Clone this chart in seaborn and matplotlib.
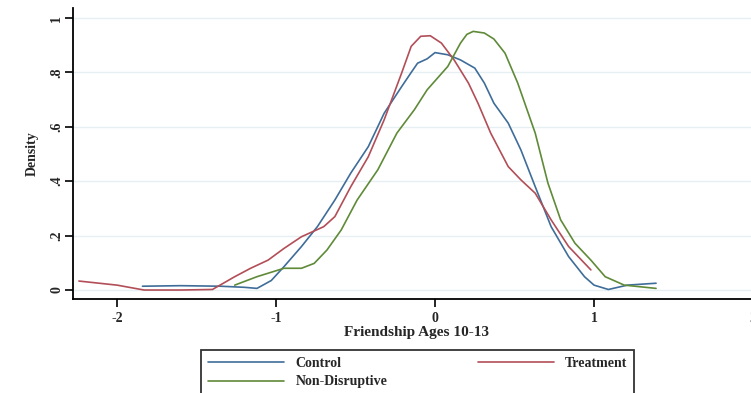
import pandas as pd
import numpy as np
import matplotlib
matplotlib.use('Agg')
import matplotlib.pyplot as plt
import seaborn as sns

# Curvas de densidad
control_x = [-1.84, -1.60, -1.35, -1.20, -1.12, -1.03, -0.95, -0.84, -0.74, -0.63, -0.53,
             -0.42, -0.32, -0.21, -0.15, -0.11, -0.05, 0.00, 0.08, 0.16, 0.25, 0.31,
             0.37, 0.46, 0.54, 0.63, 0.73, 0.84, 0.94, 1.00, 1.09, 1.21, 1.39]
control_y = [0.014, 0.016, 0.014, 0.010, 0.006, 0.035, 0.086, 0.160, 0.233, 0.331, 0.430,
             0.527, 0.650, 0.748, 0.800, 0.834, 0.850, 0.873, 0.865, 0.846, 0.816, 0.761,
             0.687, 0.614, 0.515, 0.380, 0.233, 0.123, 0.049, 0.018, 0.002, 0.018, 0.025]

treat_x = [-2.24, -2.00, -1.83, -1.60, -1.40, -1.26, -1.16, -1.05, -0.95, -0.84, -0.70,
           -0.63, -0.53, -0.42, -0.32, -0.21, -0.15, -0.09, -0.03, 0.04, 0.12, 0.21,
           0.27, 0.35, 0.46, 0.54, 0.63, 0.73, 0.84, 0.98]
treat_y = [0.033, 0.018, 0.000, 0.000, 0.002, 0.049, 0.080, 0.110, 0.153, 0.196, 0.233,
           0.270, 0.380, 0.490, 0.626, 0.798, 0.896, 0.933, 0.935, 0.908, 0.846, 0.761,
           0.687, 0.577, 0.454, 0.405, 0.356, 0.258, 0.160, 0.074]

nondis_x = [-1.26, -1.12, -0.95, -0.84, -0.76, -0.68, -0.59, -0.49, -0.36, -0.24, -0.13,
            -0.05, 0.08, 0.16, 0.20, 0.24, 0.31, 0.37, 0.44, 0.52, 0.63, 0.71, 0.79,
            0.88, 0.98, 1.07, 1.19, 1.39]
nondis_y = [0.018, 0.049, 0.080, 0.080, 0.098, 0.147, 0.221, 0.331, 0.442, 0.577, 0.663,
            0.736, 0.822, 0.908, 0.940, 0.951, 0.945, 0.923, 0.871, 0.761, 0.577, 0.393,
            0.258, 0.172, 0.110, 0.049, 0.018, 0.006]

grupos = ['Control', 'Treatment', 'Non-Disruptive']
colores = ['#3f6d99', '#b24e58', '#5f8a38']
y_ticks = [0, 0.2, 0.4, 0.6, 0.8, 1]
y_labels = ['0', '.2', '.4', '.6', '.8', '1']
x_ticks = [-2, -1, 0, 1, 2]

# dataframe largo
df = pd.concat([
    pd.DataFrame({'x': control_x, 'y': control_y, 'grupo': 'Control'}),
    pd.DataFrame({'x': treat_x, 'y': treat_y, 'grupo': 'Treatment'}),
    pd.DataFrame({'x': nondis_x, 'y': nondis_y, 'grupo': 'Non-Disruptive'}),
])

sns.set_style('white')
plt.rcParams['font.family'] = ['Liberation Serif', 'DejaVu Serif']
plt.rcParams['font.weight'] = 'bold'
plt.rcParams['axes.unicode_minus'] = False

fig = plt.figure(figsize=(7.51, 3.93), dpi=100)
ax = fig.add_axes([73/751, 1-299/393, 688/751, 291/393])

sns.lineplot(data=df, x='x', y='y', hue='grupo', hue_order=grupos,
             palette=colores, sort=False, estimator=None, linewidth=1.2,
             legend=False, ax=ax)

ax.set_xlim(-2.277, 2.05)
ax.set_ylim(-0.033, 1.037)
ax.set_xticks(x_ticks)
ax.set_yticks(y_ticks)
ax.set_yticklabels(y_labels, rotation=90, va='center')
ax.yaxis.grid(True, color='#e6eff2', linewidth=1)
ax.xaxis.grid(False)
for s in ['top', 'right']:
    ax.spines[s].set_visible(False)
for s in ['left', 'bottom']:
    ax.spines[s].set_color('black')
    ax.spines[s].set_linewidth(1.3)
ax.tick_params(axis='both', direction='out', length=6, width=1.2, color='black',
               labelsize=10, pad=3, left=True, bottom=True)
ax.tick_params(axis='y', pad=1)
ax.set_xlabel('Friendship Ages 10-13', fontsize=11, fontweight='bold', labelpad=1)
ax.set_ylabel('Density', fontsize=10, fontweight='bold', labelpad=8)

# orden para que quede por filas: Control, Treatment / Non-Disruptive
orden = [0, 2, 1]
handles = [plt.Line2D([], [], color=colores[i], linewidth=1.2) for i in orden]
etiquetas = [grupos[i] for i in orden]
leg = fig.legend(handles, etiquetas, ncol=2, loc='upper left',
                 bbox_to_anchor=(201/751, 1-350/393), borderaxespad=0,
                 frameon=True, fancybox=False,
                 edgecolor='black', fontsize=10, handlelength=5.5, columnspacing=6.5,
                 borderpad=0.5, labelspacing=0.4)
leg.get_frame().set_linewidth(1.3)

plt.savefig('out.png', dpi=100)
